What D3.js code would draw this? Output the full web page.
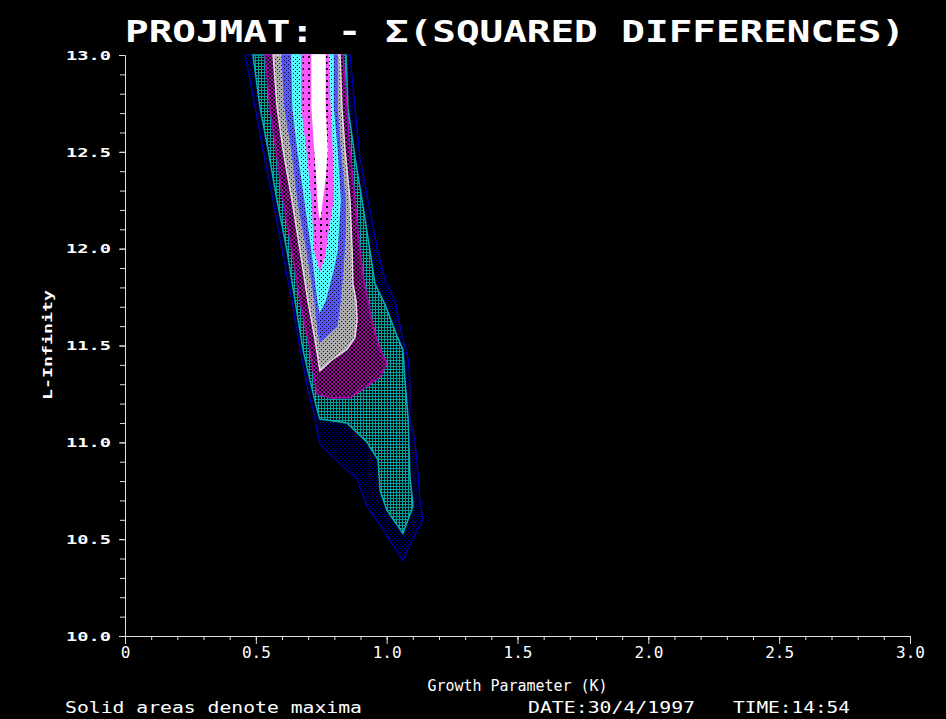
<!DOCTYPE html>
<html>
<head>
<meta charset="UTF-8">
<title>PROJMAT</title>
<style>
    body { margin: 0; background: #000; }
    svg { display: block; background: #000; }
    .axis path, .axis line { stroke: #e0e0e0; }
    .ticklab { font-family: 'DejaVu Sans Mono', monospace; font-weight: bold; fill: #fff; }
    .txt { font-family: 'DejaVu Sans Mono', monospace; fill: #fff; }
</style>
</head>
<body>
<script src="https://cdn.jsdelivr.net/npm/d3@7"></script>
<script>
    /// data: contour rings, [K, L-infinity]
    // outermost band first, innermost (maximum) last
    var ringNavy = [[0.459,13.0],[0.497,12.73],[0.527,12.51],[0.566,12.25],[0.600,11.99],[0.638,11.73],[0.669,11.48],
        [0.699,11.27],[0.718,11.17],[0.734,11.06],[0.745,10.99],[0.822,10.89],[0.887,10.81],[0.925,10.67],[0.986,10.55],
        [1.062,10.39],[1.089,10.47],[1.139,10.60],[1.127,10.70],[1.120,10.84],[1.108,11.01],[1.089,11.12],[1.089,11.32],
        [1.082,11.43],[1.059,11.55],[1.032,11.73],[0.994,11.84],[0.963,12.01],[0.929,12.25],[0.898,12.47],[0.879,12.73],[0.860,13.0]];
    var ringTeal = [[0.489,13.0],[0.516,12.73],[0.547,12.51],[0.581,12.25],[0.619,11.99],[0.650,11.73],[0.680,11.48],
        [0.707,11.32],[0.734,11.17],[0.745,11.12],[0.848,11.10],[0.925,11.00],[0.967,10.91],[0.975,10.75],[1.001,10.65],
        [1.062,10.53],[1.101,10.67],[1.089,10.82],[1.082,11.12],[1.070,11.32],[1.062,11.48],[1.039,11.55],[0.994,11.71],
        [0.955,11.82],[0.936,11.99],[0.906,12.25],[0.879,12.47],[0.852,12.73],[0.845,13.0]];
    var ringPurple = [[0.535,13.0],[0.554,12.73],[0.577,12.51],[0.604,12.25],[0.638,11.99],[0.669,11.73],[0.707,11.48],
        [0.718,11.37],[0.734,11.25],[0.783,11.23],[0.860,11.23],[0.925,11.29],[0.975,11.34],[1.001,11.41],[0.982,11.46],
        [0.963,11.53],[0.944,11.63],[0.929,11.73],[0.910,11.86],[0.898,11.99],[0.879,12.25],[0.860,12.51],[0.848,12.73],[0.833,13.0]];
    var ringGrey = [[0.566,13.0],[0.581,12.73],[0.604,12.51],[0.638,12.25],[0.669,11.99],[0.699,11.73],[0.726,11.53],
        [0.745,11.37],[0.795,11.43],[0.848,11.48],[0.879,11.54],[0.887,11.63],[0.883,11.73],[0.871,11.82],[0.868,11.99],
        [0.860,12.25],[0.841,12.51],[0.829,12.73],[0.822,13.0]];
    var ringBlue = [[0.600,13.0],[0.611,12.73],[0.638,12.51],[0.661,12.25],[0.696,11.99],[0.726,11.73],[0.738,11.58],
        [0.745,11.52],[0.810,11.60],[0.822,11.73],[0.833,11.90],[0.841,12.08],[0.841,12.25],[0.822,12.51],[0.810,12.73],[0.810,13.0]];
    var ringCyan = [[0.638,13.0],[0.642,12.73],[0.661,12.51],[0.688,12.25],[0.715,11.99],[0.738,11.73],[0.745,11.68],
        [0.764,11.73],[0.795,11.89],[0.810,11.99],[0.822,12.25],[0.810,12.51],[0.795,12.73],[0.795,13.0]];
    var ringPink = [[0.676,13.0],[0.676,12.73],[0.696,12.51],[0.715,12.25],[0.726,11.99],[0.745,11.89],[0.764,11.97],
        [0.776,12.10],[0.795,12.25],[0.791,12.51],[0.783,12.73],[0.776,13.0]];
    var ringWhite = [[0.715,13.0],[0.715,12.73],[0.726,12.51],[0.734,12.36],[0.738,12.25],[0.745,12.16],[0.753,12.25],
        [0.764,12.36],[0.772,12.51],[0.764,12.73],[0.764,13.0]];

    var xTicks = [0, 0.5, 1.0, 1.5, 2.0, 2.5, 3.0];
    var yTicks = [10.0, 10.5, 11.0, 11.5, 12.0, 12.5, 13.0];

    /// params
    var width = 946, height = 719;
    var margin = {top: 55, right: 36, bottom: 83, left: 125};
    var plotW = width - margin.left - margin.right,
        plotH = height - margin.top - margin.bottom;

    var svg = d3.select("body").append("svg")
        .attr("width", width)
        .attr("height", height);

    var x = d3.scaleLinear().domain([0, 3]).range([margin.left, margin.left + plotW]);
    var y = d3.scaleLinear().domain([10, 13]).range([margin.top + plotH, margin.top]);

    // EGA style fill patterns
    var defs = svg.append("defs");
    function pattern(id, w, h, bg, fg, cells) {
        var p = defs.append("pattern").attr("id", id)
            .attr("patternUnits", "userSpaceOnUse")
            .attr("width", w).attr("height", h);
        p.append("rect").attr("width", w).attr("height", h).attr("fill", bg);
        cells.forEach(function(c) {
            p.append("rect").attr("x", c[0]).attr("y", c[1])
                .attr("width", c[2] || 1).attr("height", c[3] || 1).attr("fill", fg);
        });
    }
    pattern("pNavy", 4, 4, "#000", "#0000aa", [[0, 0], [2, 2]]);
    pattern("pTeal", 3, 3, "#00a0a0", "#000", [[1, 1, 2, 2]]);
    pattern("pPurple", 4, 4, "#000", "#b000b0", [[0, 0], [1, 1], [2, 2], [3, 3], [3, 0], [2, 1], [1, 2], [0, 3]]);
    pattern("pGrey", 4, 4, "#aaaaaa", "#222", [[1, 1], [3, 3]]);
    pattern("pBlue", 4, 4, "#5555ff", "#000", [[0, 0], [2, 2]]);
    pattern("pCyan", 4, 4, "#55ffff", "#000", [[1, 1], [3, 3]]);
    pattern("pPink", 6, 6, "#ff55ff", "#000", [[2, 2, 2, 2]]);

    var bands = [
        {ring: ringNavy, fill: "url(#pNavy)", line: "#0000bb", w: 1.2},
        {ring: ringTeal, fill: "url(#pTeal)", line: "#00b0b0", w: 1.5},
        {ring: ringPurple, fill: "url(#pPurple)", line: "#b000b0", w: 1.5},
        {ring: ringGrey, fill: "url(#pGrey)", line: "#dddddd", w: 1.5},
        {ring: ringBlue, fill: "url(#pBlue)", line: "#5555ff", w: 1.5},
        {ring: ringCyan, fill: "url(#pCyan)", line: "#55ffff", w: 1.5},
        {ring: ringPink, fill: "url(#pPink)", line: "#ff55ff", w: 1.5},
        {ring: ringWhite, fill: "#ffffff", line: "#ffffff", w: 1.5}
    ];

    var line = d3.line()
        .x(function(d) { return x(d[0]); })
        .y(function(d) { return y(d[1]); });

    svg.append("g").attr("class", "contours")
        .selectAll("path")
        .data(bands)
        .enter().append("path")
        .attr("d", function(d) { return line(d.ring) + "Z"; })
        .attr("fill", function(d) { return d.fill; })
        .attr("stroke", function(d) { return d.line; })
        .attr("stroke-width", function(d) { return d.w; });

    // axes: minor ticks every 0.1, labels on the halves
    svg.append("g").attr("class", "axis")
        .attr("transform", "translate(0," + (margin.top + plotH) + ")")
        .call(d3.axisBottom(x).tickValues(d3.range(0, 31).map(function(i) { return i / 10; }))
            .tickFormat("").tickSizeInner(4).tickSizeOuter(0));
    svg.append("g").attr("class", "axis")
        .attr("transform", "translate(0," + (margin.top + plotH) + ")")
        .call(d3.axisBottom(x).tickValues(xTicks)
            .tickFormat(function(d) { return d === 0 ? "0" : d3.format(".1f")(d); })
            .tickSizeInner(8).tickSizeOuter(0).tickPadding(3))
        .call(function(g) {
            g.selectAll("text").attr("class", "txt").attr("font-size", 16);
        });

    svg.append("g").attr("class", "axis")
        .attr("transform", "translate(" + margin.left + ",0)")
        .call(d3.axisLeft(y).tickValues(d3.range(100, 131).map(function(i) { return i / 10; }))
            .tickFormat("").tickSizeInner(5).tickSizeOuter(0));
    svg.append("g").attr("class", "axis")
        .attr("transform", "translate(" + margin.left + ",0)")
        .call(d3.axisLeft(y).tickValues(yTicks).tickFormat(d3.format(".1f"))
            .tickSizeInner(6).tickSizeOuter(0).tickPadding(8))
        .call(function(g) {
            g.selectAll("text").attr("class", "ticklab").attr("font-size", 13)
                .attr("textLength", 45).attr("lengthAdjust", "spacingAndGlyphs");
        });
    svg.selectAll(".axis text").attr("font-family", null);

    // title and labels
    svg.append("text").attr("class", "txt")
        .attr("x", 125).attr("y", 42)
        .attr("font-size", 30).attr("font-weight", "bold")
        .attr("textLength", 780).attr("lengthAdjust", "spacingAndGlyphs")
        .text("PROJMAT: - \u03a3(SQUARED DIFFERENCES)");

    svg.append("text").attr("class", "txt")
        .attr("x", (x(0) + x(3)) / 2).attr("y", 691)
        .attr("text-anchor", "middle").attr("font-size", 16)
        .attr("textLength", 180).attr("lengthAdjust", "spacingAndGlyphs")
        .text("Growth Parameter (K)");

    svg.append("text").attr("class", "ticklab")
        .attr("transform", "translate(52,345) rotate(-90)")
        .attr("text-anchor", "middle").attr("font-size", 13)
        .attr("textLength", 110).attr("lengthAdjust", "spacingAndGlyphs")
        .text("L-Infinity");

    var foot = [
        {x: 65, w: 297, s: "Solid areas denote maxima"},
        {x: 528, w: 167, s: "DATE:30/4/1997"},
        {x: 733, w: 117, s: "TIME:14:54"}
    ];
    svg.selectAll(".foot").data(foot).enter().append("text")
        .attr("class", "txt foot")
        .attr("x", function(d) { return d.x; }).attr("y", 713)
        .attr("font-size", 15)
        .attr("textLength", function(d) { return d.w; }).attr("lengthAdjust", "spacingAndGlyphs")
        .text(function(d) { return d.s; });
</script>
</body>
</html>
